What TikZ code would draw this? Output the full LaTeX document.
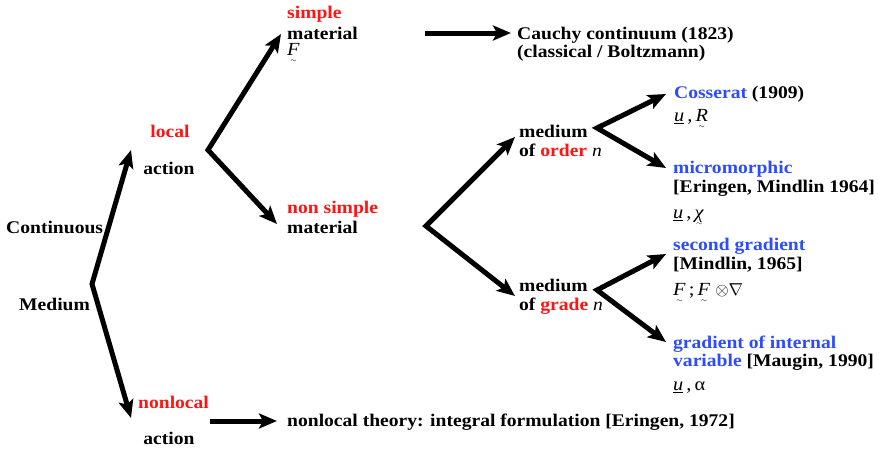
\documentclass[tikz,border=0pt]{standalone}
\usepackage{fontspec}
\usepackage{amsmath}
\setmainfont[FakeStretch=1.1]{Liberation Serif}
\usetikzlibrary{arrows.meta}
\definecolor{myred}{RGB}{255,20,20}
\definecolor{myblue}{RGB}{45,75,255}
\newcommand\tildX[1]{{\setbox0=\hbox{#1}\copy0\kern-\wd0\makebox[\wd0]{\raisebox{-0.42em}{\scriptsize$\sim$}}}}
\newcommand\tildF{\tildX{\textit{F}}}
\newcommand\ulu{\underline{\textit{u}}}
\begin{document}
\begin{tikzpicture}[x=1pt,y=-1pt,
  txt/.style={anchor=base west, inner sep=0pt, font=\fontsize{17.8}{20}\selectfont\bfseries},
  ctxt/.style={txt, anchor=base},
  mth/.style={anchor=base west, inner sep=0pt, font=\fontsize{18.5}{20}\selectfont},
  red/.style={text=myred},
  blue/.style={text=myblue},
  arr/.style={line width=5pt, -{Stealth[length=18pt,width=15pt,inset=4pt]}},
  fork/.style={line width=5pt, line join=miter,
     {Stealth[length=18pt,width=15pt,inset=4pt]}-{Stealth[length=18pt,width=15pt,inset=4pt]}}]
\useasboundingbox (0,0) rectangle (879,455);

% texts
\node[txt] (cont) at (6,233) {Continuous};
\node[txt] (med) at (19,310) {Medium};
\node[ctxt,red] (loc) at (170,137) {local};
\node[ctxt] (act1) at (169,174) {action};
\node[txt,red] (nonloc) at (138,408) {nonlocal};
\node[ctxt] (act2) at (169,444) {action};
\node[txt] (nlt) at (287,426) {nonlocal theory: integral formulation [Eringen, 1972]};

\node[txt,red] (simp) at (287,18) {simple};
\node[txt] (mat1) at (287,39) {material};
\node[mth] (F1) at (287,55) {\tildF};
\node[txt] (cauchy) at (517,39) {Cauchy continuum (1823)};
\node[txt] (class) at (517,57) {(classical / Boltzmann)};

\node[txt,red] (nsimp) at (287,213) {non simple};
\node[txt] (mat2) at (287,233) {material};

\node[txt] (med1) at (519,137) {medium};
\node[txt] (ord) at (519,156) {of \textcolor{myred}{order} {\mdseries\itshape n}};
\node[txt] (med2) at (519,291) {medium};
\node[txt] (grd) at (519,310) {of \textcolor{myred}{grade} {\mdseries\itshape n}};

\node[txt] (coss) at (674,98) {\textcolor{myblue}{Cosserat} (1909)};
\node[mth] (uR) at (674,121) {\ulu\,,\,\tildX{\textit{R}}};
\node[txt,blue] (micro) at (673,173) {micromorphic};
\node[txt] (erin) at (673,192) {[Eringen, Mindlin 1964]};
\node[mth] (uchi) at (673,218) {\ulu\,,\,\tildX{\textit{χ}}};
\node[txt,blue] (sec) at (673,250) {second gradient};
\node[txt] (mind) at (673,269) {[Mindlin, 1965]};
\node[mth] (FF) at (673,295) {\tildF\,;\,\tildF\ \ensuremath{\otimes\nabla}};
\node[txt,blue] (gint) at (673,348) {gradient of internal};
\node[txt] (var) at (673,366) {\textcolor{myblue}{variable} [Maugin, 1990]};
\node[mth] (ua) at (673,390) {\ulu\,,\,α};

% connector coordinates
\coordinate (v1) at (92,284);
\coordinate (t1u) at (131,150);
\coordinate (t1d) at (131,418);
\coordinate (v2) at (208,150);
\coordinate (t2u) at (281,34);
\coordinate (t2d) at (277,224);
\coordinate (s3) at (425,33);
\coordinate (t3) at (511,33);
\coordinate (v4) at (426,226);
\coordinate (t4u) at (515,137);
\coordinate (t4d) at (515,296);
\coordinate (v5) at (597,128);
\coordinate (t5u) at (666,94);
\coordinate (t5d) at (666,168);
\coordinate (v6) at (597,290);
\coordinate (t6u) at (666,254);
\coordinate (t6d) at (666,342);
\coordinate (s7) at (210,421);
\coordinate (t7) at (277,421);

\draw[fork] (t1u) -- (v1) -- (t1d);
\draw[fork] (t2u) -- (v2) -- (t2d);
\draw[arr] (s3) -- (t3);
\draw[fork] (t4u) -- (v4) -- (t4d);
\draw[fork] (t5u) -- (v5) -- (t5d);
\draw[fork] (t6u) -- (v6) -- (t6d);
\draw[arr] (s7) -- (t7);
\end{tikzpicture}
\end{document}
